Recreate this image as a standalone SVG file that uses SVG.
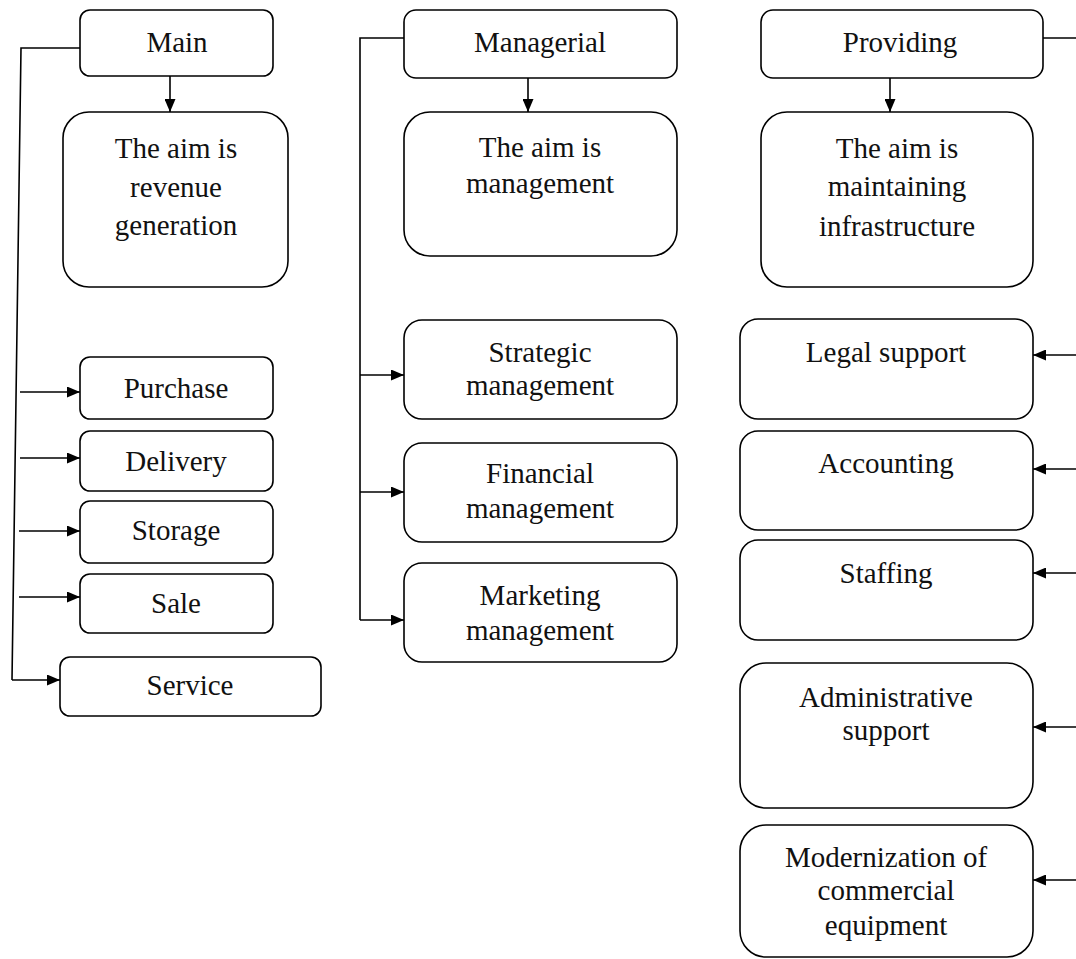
<svg xmlns="http://www.w3.org/2000/svg" width="1076" height="959" viewBox="0 0 1076 959">
<style>
.box{fill:#fff;stroke:#000;stroke-width:1.6}
.t{font-family:"Liberation Serif","Times New Roman",serif;font-size:29px;fill:#111;text-anchor:middle}
.c{fill:none;stroke:#000;stroke-width:1.6}
</style>
<defs>
<marker id="ah" markerUnits="userSpaceOnUse" markerWidth="13" markerHeight="11" refX="13" refY="5.5" orient="auto">
<path d="M0,0 L13,5.5 L0,11 Z" fill="#000"/>
</marker>
</defs>
<rect width="1076" height="959" fill="#fff"/>
<g id="connectors">
<path class="c" d="M80,48 L21,48 L12,680"/>
<path class="c" d="M20,392 L80,392" marker-end="url(#ah)"/>
<path class="c" d="M20,458 L80,458" marker-end="url(#ah)"/>
<path class="c" d="M19,531 L80,531" marker-end="url(#ah)"/>
<path class="c" d="M19,597 L80,597" marker-end="url(#ah)"/>
<path class="c" d="M12,680 L60,680" marker-end="url(#ah)"/>
<path class="c" d="M170,76 L170,112" marker-end="url(#ah)"/>
<path class="c" d="M404,38 L360,38 L360,620"/>
<path class="c" d="M360,375 L404,375" marker-end="url(#ah)"/>
<path class="c" d="M360,492 L404,492" marker-end="url(#ah)"/>
<path class="c" d="M360,620 L404,620" marker-end="url(#ah)"/>
<path class="c" d="M528,78 L528,112" marker-end="url(#ah)"/>
<path class="c" d="M890,78 L890,112" marker-end="url(#ah)"/>
<path class="c" d="M1043,38 L1077,38"/>
<path class="c" d="M1077,355 L1033,355" marker-end="url(#ah)"/>
<path class="c" d="M1077,469 L1033,469" marker-end="url(#ah)"/>
<path class="c" d="M1077,573 L1033,573" marker-end="url(#ah)"/>
<path class="c" d="M1077,727 L1033,727" marker-end="url(#ah)"/>
<path class="c" d="M1077,880 L1033,880" marker-end="url(#ah)"/>
</g>
<g id="main"><rect class="box" x="80" y="10" width="193" height="66" rx="10"/><text class="t" x="177" y="52">Main</text></g>
<g id="aim-revenue"><rect class="box" x="63" y="112" width="225" height="175" rx="26"/><text class="t" x="176" y="158">The aim is</text><text class="t" x="176" y="197">revenue</text><text class="t" x="176" y="235">generation</text></g>
<g id="purchase"><rect class="box" x="80" y="357" width="193" height="62" rx="10"/><text class="t" x="176" y="398">Purchase</text></g>
<g id="delivery"><rect class="box" x="80" y="431" width="193" height="60" rx="10"/><text class="t" x="176" y="471">Delivery</text></g>
<g id="storage"><rect class="box" x="80" y="501" width="193" height="62" rx="10"/><text class="t" x="176" y="540">Storage</text></g>
<g id="sale"><rect class="box" x="80" y="574" width="193" height="59" rx="10"/><text class="t" x="176" y="613">Sale</text></g>
<g id="service"><rect class="box" x="60" y="657" width="261" height="59" rx="10"/><text class="t" x="190" y="695">Service</text></g>
<g id="managerial"><rect class="box" x="404" y="10" width="273" height="68" rx="12"/><text class="t" x="540" y="52">Managerial</text></g>
<g id="aim-management"><rect class="box" x="404" y="112" width="273" height="144" rx="26"/><text class="t" x="540" y="157">The aim is</text><text class="t" x="540" y="193">management</text></g>
<g id="strategic"><rect class="box" x="404" y="320" width="273" height="99" rx="18"/><text class="t" x="540" y="362">Strategic</text><text class="t" x="540" y="395">management</text></g>
<g id="financial"><rect class="box" x="404" y="443" width="273" height="99" rx="18"/><text class="t" x="540" y="483">Financial</text><text class="t" x="540" y="518">management</text></g>
<g id="marketing"><rect class="box" x="404" y="563" width="273" height="99" rx="18"/><text class="t" x="540" y="605">Marketing</text><text class="t" x="540" y="640">management</text></g>
<g id="providing"><rect class="box" x="761" y="10" width="282" height="68" rx="12"/><text class="t" x="900" y="52">Providing</text></g>
<g id="aim-infrastructure"><rect class="box" x="761" y="112" width="272" height="175" rx="26"/><text class="t" x="897" y="158">The aim is</text><text class="t" x="897" y="196">maintaining</text><text class="t" x="897" y="236">infrastructure</text></g>
<g id="legal"><rect class="box" x="740" y="319" width="293" height="100" rx="18"/><text class="t" x="886" y="362">Legal support</text></g>
<g id="accounting"><rect class="box" x="740" y="431" width="293" height="99" rx="18"/><text class="t" x="886" y="473">Accounting</text></g>
<g id="staffing"><rect class="box" x="740" y="540" width="293" height="100" rx="18"/><text class="t" x="886" y="583">Staffing</text></g>
<g id="administrative"><rect class="box" x="740" y="663" width="293" height="145" rx="26"/><text class="t" x="886" y="707">Administrative</text><text class="t" x="886" y="740">support</text></g>
<g id="modernization"><rect class="box" x="740" y="825" width="293" height="132" rx="26"/><text class="t" x="886" y="867">Modernization of</text><text class="t" x="886" y="900">commercial</text><text class="t" x="886" y="935">equipment</text></g>
</svg>
